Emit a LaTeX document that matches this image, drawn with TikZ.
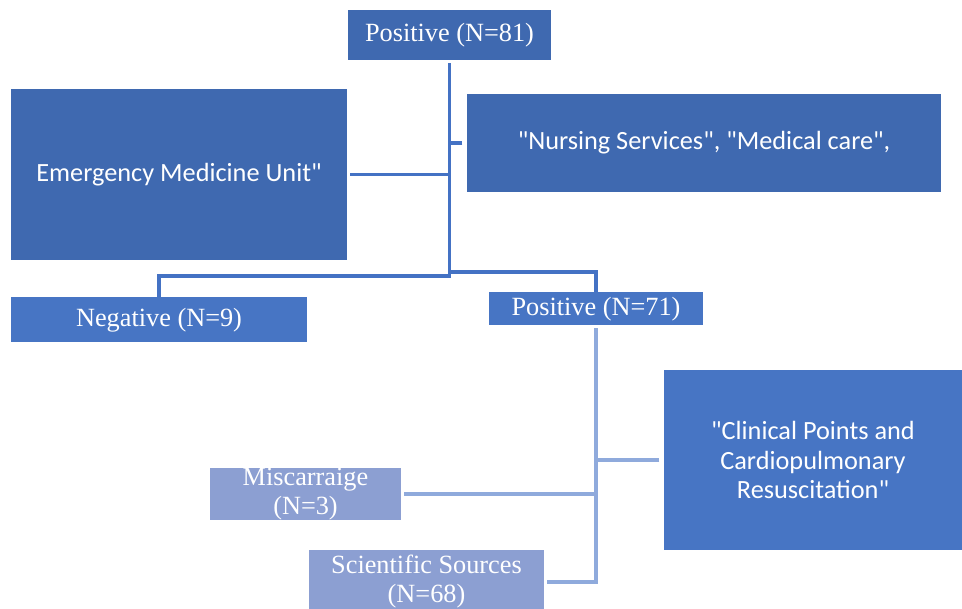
\documentclass[tikz,border=0pt]{standalone}
\usepackage{fontspec}
\setmainfont{Liberation Serif}
\newfontfamily\calibri{Carlito}
\usetikzlibrary{positioning}
\definecolor{darkblue}{HTML}{3F69B0}
\definecolor{midblue}{HTML}{4775C4}
\definecolor{lightblue}{HTML}{8C9FD2}
\definecolor{linkblue}{HTML}{4472C4}
\definecolor{sublinkblue}{HTML}{8FAADC}

\begin{document}
\begin{tikzpicture}[
    x=0.025cm, y=-0.025cm,
    every node/.style={font=\fontsize{18.7}{20.6}\selectfont, text=white, inner sep=0pt},
    darkbox/.style={rectangle, align=center, fill=darkblue},
    midbox/.style={rectangle, align=center, fill=midblue},
    lightbox/.style={rectangle, align=center, fill=lightblue},
    sans/.style={font=\calibri\fontsize{18.7}{21}\selectfont},
    link/.style={draw=linkblue, line width=2.3pt},
    sublink/.style={draw=sublinkblue, line width=2.3pt}
]
\useasboundingbox (0,0) rectangle (962,609);

\node (pos81) [darkbox, minimum width=5.075cm, minimum height=1.25cm, text depth=0.12cm] at (449.5,35) {Positive (N=81)};
\node (emu) [darkbox, sans, minimum width=8.4cm, minimum height=4.275cm] at (179,174.5) {Emergency Medicine Unit"};
\node (nurse) [darkbox, sans, minimum width=11.85cm, minimum height=2.45cm] at (704,143) {"Nursing Services", "Medical care",};
\node (neg) [midbox, minimum width=7.4cm, minimum height=1.125cm, text depth=0.12cm] at (159,319.5) {Negative (N=9)};
\node (pos71) [midbox, minimum width=5.35cm, minimum height=0.825cm, text depth=0.12cm] at (596,308.5) {Positive (N=71)};
\node (cpr) [midbox, sans, minimum width=7.45cm, minimum height=4.5cm] at (813,460) {"Clinical Points and\\Cardiopulmonary\\Resuscitation"};
\node (misc) [lightbox, minimum width=4.775cm, minimum height=1.3cm] at (305.5,494) {Miscarraige\\(N=3)};
\node (sci) [lightbox, minimum width=5.875cm, minimum height=1.6cm] at (426.5,582) {Scientific Sources\\(N=68)};

\coordinate (j1) at (pos81.south |- 0,276);
\coordinate (j2) at (pos81.south |- 0,272);

\draw [link, shorten <=2pt] (pos81.south) -- (j1) -| (neg.north);
\draw [link] (j2) -| (pos71.north);
\draw [link, shorten <=2pt] (emu.east) -- (emu.east -| pos81.south);
\draw [link, shorten <=3pt] (nurse.west) -- (nurse.west -| pos81.south);

\draw [sublink, shorten <=2pt, shorten >=2pt] (pos71.south) |- (sci.east);
\draw [sublink, shorten <=3pt] (cpr.west) -- (cpr.west -| pos71.south);
\draw [sublink, shorten <=2pt] (misc.east) -- (misc.east -| pos71.south);

\end{tikzpicture}
\end{document}
